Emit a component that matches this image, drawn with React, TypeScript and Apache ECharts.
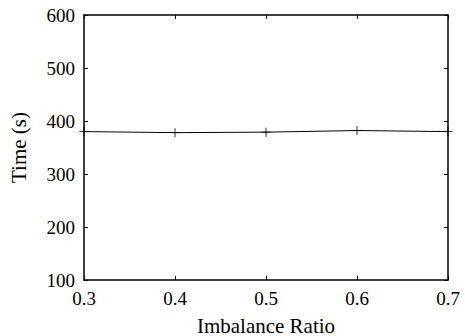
import React, { useEffect, useRef } from "react";
import * as echarts from "echarts";

const ratios = [0.3, 0.4, 0.5, 0.6, 0.7];
const times = [380, 378, 379, 382, 380];

const FONT = "Liberation Serif";
const PLUS = "path://M-0.09,-1H0.09V-0.09H1V0.09H0.09V1H-0.09V0.09H-1V-0.09H-0.09Z";

export default function App() {
  const ref = useRef<HTMLDivElement>(null);
  useEffect(() => {
    if (!ref.current) return;
    const chart = echarts.init(ref.current, null, { renderer: "svg" });
    const axisLine = { show: true, lineStyle: { color: "#000", width: 1.5 } };
    const tick = { show: true, inside: true, length: 4, lineStyle: { color: "#000", width: 1 } };
    const label = { color: "#000", fontFamily: FONT, fontSize: 19 };
    chart.setOption({
      animation: false,
      backgroundColor: "#fff",
      textStyle: { fontFamily: FONT },
      grid: { left: 84, right: 17, top: 15, bottom: 56, containLabel: false, outerBoundsMode: "none" },
      xAxis: [
        {
          type: "value",
          min: 0.3,
          max: 0.7,
          interval: 0.1,
          axisLine,
          axisTick: tick,
          splitLine: { show: false },
          axisLabel: { ...label, margin: 9, formatter: (v: number) => v.toFixed(1) },
          name: "Imbalance Ratio",
          nameLocation: "middle",
          nameGap: 35,
          nameTextStyle: { color: "#000", fontFamily: FONT, fontSize: 21 },
        },
        {
          type: "value",
          position: "top",
          min: 0.3,
          max: 0.7,
          interval: 0.1,
          axisLine,
          axisTick: tick,
          splitLine: { show: false },
          axisLabel: { show: false },
        },
      ],
      yAxis: [
        {
          type: "value",
          min: 100,
          max: 600,
          interval: 100,
          axisLine,
          axisTick: tick,
          splitLine: { show: false },
          axisLabel: { ...label, margin: 9 },
          name: "Time (s)",
          nameLocation: "middle",
          nameGap: 55,
          nameTextStyle: { color: "#000", fontFamily: FONT, fontSize: 21 },
        },
        {
          type: "value",
          position: "right",
          min: 100,
          max: 600,
          interval: 100,
          axisLine,
          axisTick: tick,
          splitLine: { show: false },
          axisLabel: { show: false },
        },
      ],
      series: [
        {
          type: "line",
          data: ratios.map((r, i) => [r, times[i]]),
          symbol: PLUS,
          symbolSize: 9,
          showSymbol: true,
          lineStyle: { color: "#000", width: 1 },
          itemStyle: { color: "#000" },
          clip: false,
        },
      ],
    });
    return () => chart.dispose();
  }, []);
  return <div ref={ref} style={{ width: 465, height: 336, position: "absolute", left: 0, top: 0 }} />;
}
